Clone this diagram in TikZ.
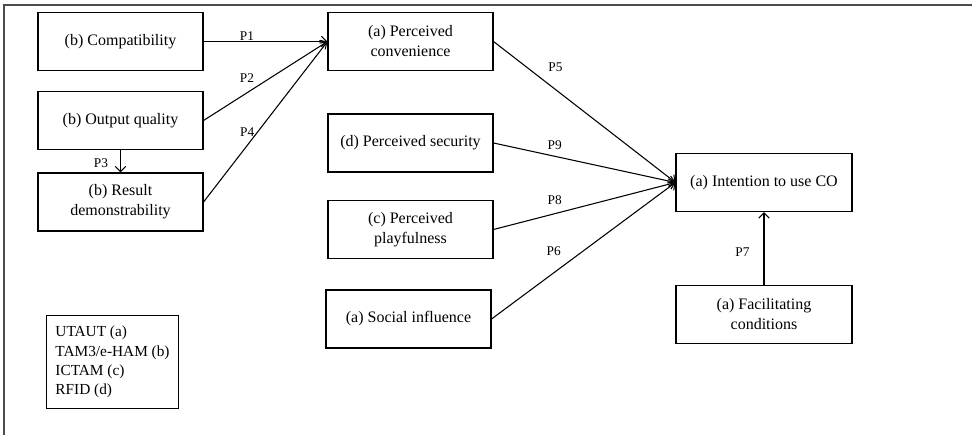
\documentclass[tikz,border=0pt]{standalone}
\usepackage{fontspec}
\setmainfont{Liberation Serif}
\usetikzlibrary{arrows.meta}

\begin{document}
\begin{tikzpicture}[x=0.75pt, y=-0.75pt,
	box/.style={rectangle, draw, line width=0.8pt, minimum width=123.75pt, minimum height=43.5pt, align=center, font=\fontsize{12}{15}\selectfont},
	link/.style={-{Straight Barb[length=4pt, width=8pt]}, line width=0.8pt},
	plabel/.style={inner sep=0pt, font=\fontsize{10}{12}\selectfont}]
\useasboundingbox (0,0) rectangle (972,435);
% outer frame, cut at the right and bottom
\draw [gray!60!black, line width=1.2pt] (4,445) -- (4,5) -- (980,5);
% predictors on the left
\node [box] (compat) at (120.5,41.5) {(b) Compatibility};
\node [box] (output) at (120.5,120.5) {(b) Output quality};
\node [box] (result) at (120.5,202) {(b) Result\\demonstrability};
% middle column
\node [box] (conv)   at (410.5,41.5) {(a) Perceived\\convenience};
\node [box] (secur)  at (410.5,143) {(d) Perceived security};
\node [box] (playf)  at (410.5,229.5) {(c) Perceived\\playfulness};
\node [box] (social) at (408.5,319) {(a) Social influence};
% outcome
\node [box, minimum width=132pt] (intent) at (764,182.5) {(a) Intention to use CO};
\node [box, minimum width=132pt] (facil)  at (764,314.5) {(a) Facilitating\\conditions};
% legend
\node [box, anchor=north west, minimum width=99pt, minimum height=69.75pt, inner xsep=5pt, align=left, font=\fontsize{11.5}{14.5}\selectfont] (legend) at (46,315)
	{UTAUT (a)\\TAM3/e-HAM (b)\\ICTAM (c)\\RFID (d)};

\draw [link] (compat.east) -- (conv.west) node[plabel, pos=0.35, above] (p1) {P1};
\draw [link] (output.east) -- (conv.west) node[plabel, pos=0.35, above=7.5pt] (p2) {P2};
\draw [link] (output.south) -- (result.north) node[plabel, pos=0.58, left=9pt] (p3) {P3};
\draw [link] (result.east) -- (conv.west) node[plabel, pos=0.352, above=6.5pt] (p4) {P4};
\draw [link] (conv.east) -- (intent.west) node[plabel, pos=0.34, above=13pt] (p5) {P5};
\draw [link] (secur.east) -- (intent.west) node[plabel, pos=0.336, above=4.5pt] (p9) {P9};
\draw [link] (playf.east) -- (intent.west) node[plabel, pos=0.336, above=6.5pt] (p8) {P8};
\draw [link] (social.east) -- (intent.west) node[plabel, pos=0.338, above=12.7pt] (p6) {P6};
\draw [link] (facil.north) -- (intent.south) node[plabel, pos=0.452, left=10.5pt] (p7) {P7};
\end{tikzpicture}
\end{document}
